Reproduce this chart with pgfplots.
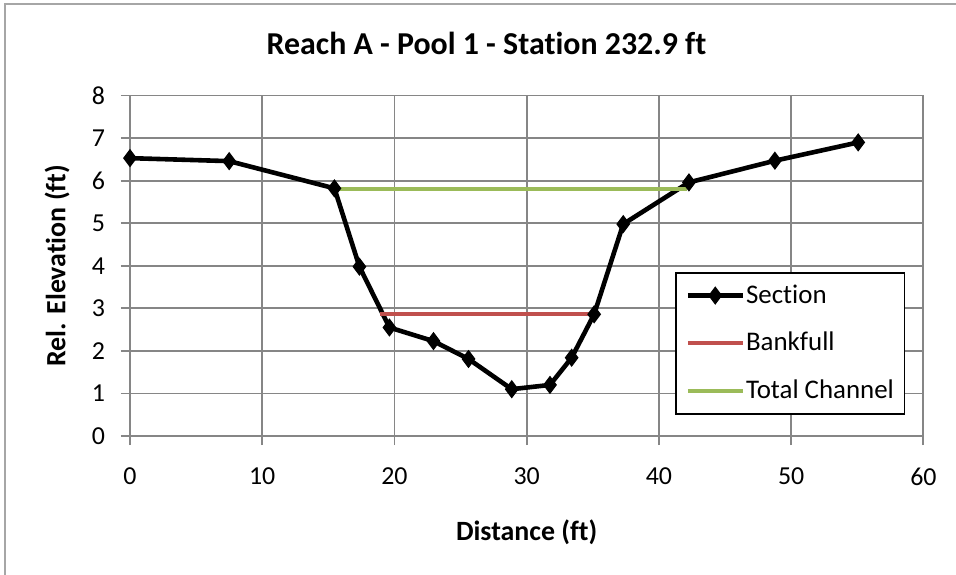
\documentclass[border=0pt]{standalone}
\usepackage{pgfplots}
\pgfplotsset{compat=1.18}
\usepackage{fontspec}
\setmainfont{Carlito}[Ligatures=NoCommon]
\definecolor{gridgray}{HTML}{868686}
\definecolor{bankred}{HTML}{C0504D}
\definecolor{totgreen}{HTML}{9BBB59}
\begin{document}
\begin{tikzpicture}
\path[use as bounding box] (0,0) rectangle (478bp,287.5bp);
\draw[gray!70, line width=1bp] (2.25bp,-1bp) -- (2.25bp,285.5bp) -- (479bp,285.5bp);
\begin{axis}[
  at={(65bp,69.5bp)}, anchor=south west,
  scale only axis, width=396.7bp, height=170.2bp,
  xmin=0, xmax=60, ymin=0, ymax=8,
  xtick={0,10,...,60}, ytick={0,1,...,8},
  grid=major,
  major grid style={gridgray, line width=0.9bp},
  axis line style={gridgray, line width=0.9bp},
  every tick/.style={gridgray, line width=0.9bp},
  tick align=outside, major tick length=4.5bp,
  xtick pos=bottom, ytick pos=left,
  /pgf/number format/assume math mode=true,
  tick label style={font=\fontsize{13}{15}\selectfont},
  xticklabel shift=8bp,
  yticklabel shift=4.5bp,
  clip=false,
  title={\textbf{Reach A - Pool 1 - Station 232.9 ft}},
  title style={font=\fontsize{16}{18}\selectfont, at={(axis description cs:0.4493,1.1193)}, anchor=center},
  xlabel={\textbf{Distance (ft)}},
  ylabel={\textbf{Rel. Elevation (ft)}},
  label style={font=\fontsize{14}{16}\selectfont},
  xlabel style={at={(axis description cs:0.5,-0.282)}, anchor=center},
  ylabel style={at={(axis description cs:-0.092,0.5)}, anchor=center},
  legend style={at={(axis description cs:0.687,0.482)}, anchor=north west,
    draw=black, line width=0.9bp, fill=white,
    font=\fontsize{13.5}{15}\selectfont,
    inner xsep=4.75bp, inner ysep=5.5bp, row sep=12bp,
    nodes={inner sep=0.5bp, anchor=west}},
  legend cell align=left,
  legend image code/.code={\draw[mark repeat=2,mark phase=2] plot coordinates {(0bp,0bp) (13.75bp,0bp) (27.5bp,0bp)};},
]
\addplot[black, line width=2.3bp, mark=diamond*, mark size=4.2bp, mark options={solid, fill=black, line width=0.5bp}] coordinates {
(0,6.53) (7.5,6.46) (15.46,5.82) (17.35,3.98) (19.62,2.55) (22.95,2.23) (25.6,1.81) (28.87,1.10) (31.76,1.20) (33.4,1.84) (35.1,2.86) (37.3,4.98) (42.27,5.96) (48.77,6.47) (55.07,6.90)
};
\addlegendentry{Section}
\addplot[bankred, line width=2bp, no marks] coordinates {(18.9,2.86) (35.2,2.86)};
\addlegendentry{Bankfull}
\addplot[totgreen, line width=2bp, no marks] coordinates {(15.3,5.81) (42.1,5.81)};
\addlegendentry{Total Channel}
\end{axis}
\end{tikzpicture}
\end{document}
